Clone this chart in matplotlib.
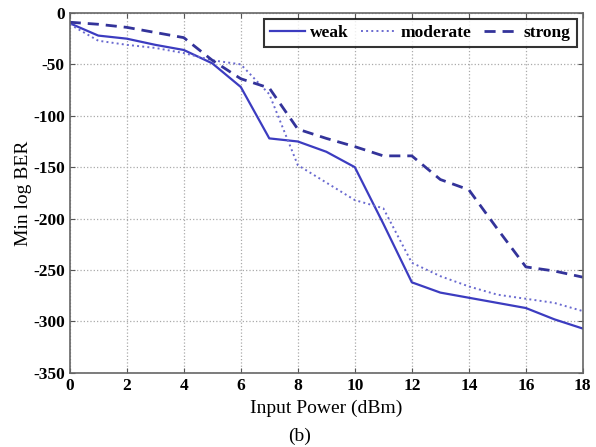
import matplotlib
matplotlib.use('Agg')
import matplotlib.pyplot as plt

plt.rcParams['font.family'] = 'Liberation Serif'
plt.rcParams['axes.unicode_minus'] = False

# input power (dBm)
power = list(range(0, 19))
weak = [-10, -22, -25, -31, -36, -49, -72, -122, -125, -135, -150, -205, -262,
        -272, -277, -282, -287, -298, -307]
moderate = [-11, -27, -31, -34, -39, -46, -50, -79, -148, -165, -182, -190, -243,
            -256, -266, -274, -278, -282, -290]
strong = [-9, -11, -14, -19, -24, -46, -64, -73, -113, -122, -130, -139, -139,
          -162, -172, -210, -247, -251, -257]

col = '#3c3cc0'

fig, ax = plt.subplots(figsize=(5.96, 4.47), dpi=100)
fig.subplots_adjust(left=0.117, right=0.978, top=0.971, bottom=0.166)

ax.plot(power, weak, '-', color=col, lw=1.6, label='weak')
ax.plot(power, moderate, ':', color='#6a6ad0', lw=1.4, label='moderate')
ax.plot(power, strong, '--', color='#33339a', lw=2.0, dashes=(4, 2.5), label='strong')

ax.set_xlim(0, 18)
ax.set_ylim(-350, 0)
ax.set_xticks(range(0, 19, 2))
ax.set_yticks(range(-350, 1, 50))
ax.grid(True, linestyle=':', color='#aaaaaa', lw=0.9)
ax.tick_params(direction='in', top=True, right=True, labelsize=12.5, color='#555555')
for lab in ax.get_xticklabels() + ax.get_yticklabels():
    lab.set_fontweight('bold')
for s in ax.spines.values():
    s.set_color('#666666')
    s.set_linewidth(1.2)

ax.set_xlabel('Input Power (dBm)', fontsize=14)
ax.set_ylabel('Min log BER', fontsize=14, labelpad=1)
fig.text(0.503, 0.005, '(b)', ha='center', va='bottom', fontsize=14)

leg = ax.legend(loc='upper right', ncol=3, fancybox=False, edgecolor='black',
                prop={'weight': 'bold', 'size': 12.5}, handlelength=2.0,
                columnspacing=0.7, handletextpad=0.3, borderaxespad=0.35,
                borderpad=0.35)
leg.get_frame().set_linewidth(1.5)

plt.savefig('out.png', dpi=100)
